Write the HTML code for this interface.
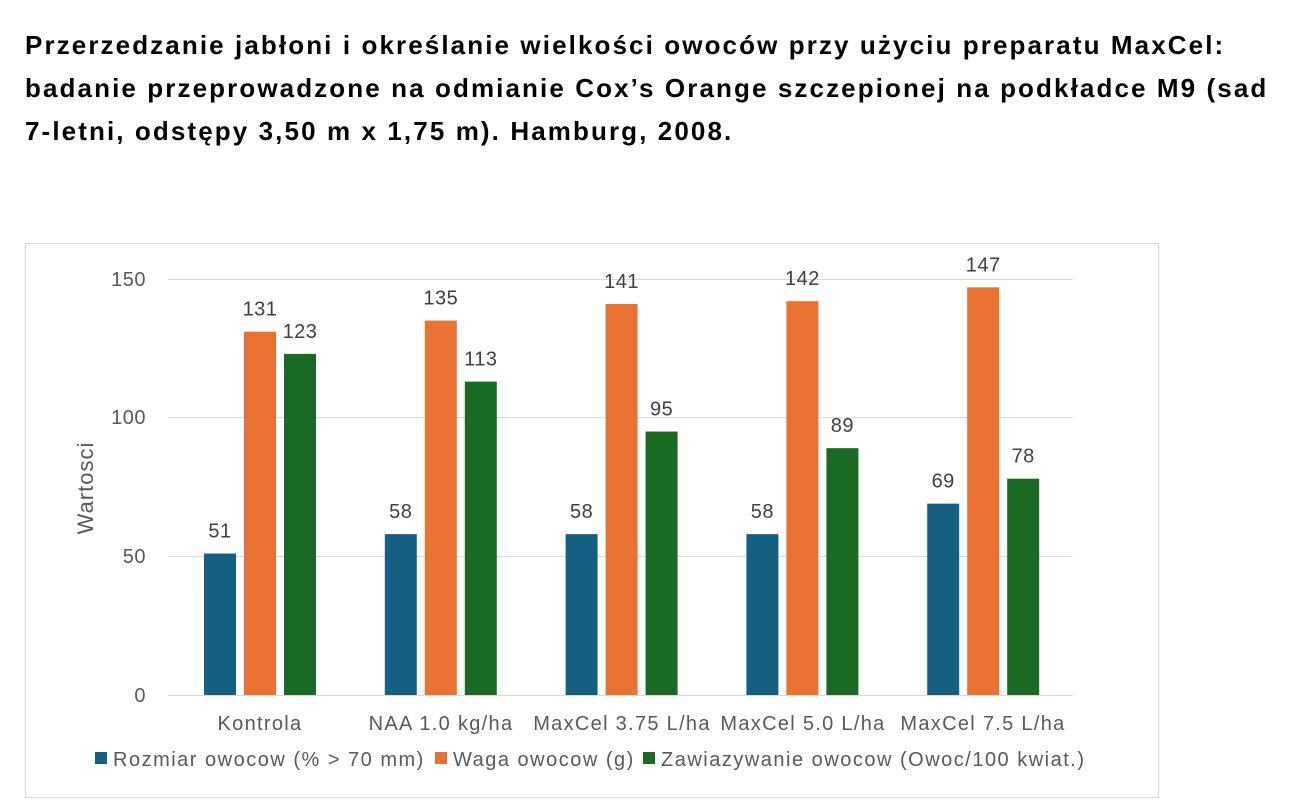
<!DOCTYPE html>
<html><head><meta charset="utf-8"><style>
body{margin:0;background:#fff;width:1303px;height:810px;overflow:hidden;font-family:"Liberation Sans",sans-serif}
.t{position:absolute;left:25px;top:24px;font-weight:bold;font-size:26px;line-height:43px;color:#000;letter-spacing:2.1px;white-space:nowrap}
</style></head><body>
<div class="t">Przerzedzanie jabłoni i określanie wielkości owoców przy użyciu preparatu MaxCel:<br>badanie przeprowadzone na odmianie Cox’s Orange szczepionej na podkładce M9 (sad<br>7-letni, odstępy 3,50 m x 1,75 m). Hamburg, 2008.</div>
<svg width="1303" height="810" style="position:absolute;left:0;top:0" font-family="Liberation Sans, sans-serif">
<rect x="25.5" y="243.5" width="1133" height="554" fill="none" stroke="#d9d9d9"/>
<g stroke="#d9d9d9" stroke-width="1">
<line x1="168" x2="1073" y1="279.5" y2="279.5"/>
<line x1="168" x2="1073" y1="417.5" y2="417.5"/>
<line x1="168" x2="1073" y1="556.5" y2="556.5"/>
<line x1="168" x2="1073" y1="695.5" y2="695.5"/>
</g>
<g font-size="20" fill="#595959" text-anchor="end" letter-spacing="0.5">
<text x="146" y="286">150</text><text x="146" y="424">100</text><text x="146" y="563">50</text><text x="146" y="702">0</text>
</g>
<text transform="translate(93,488) rotate(-90)" font-size="22" fill="#595959" text-anchor="middle" letter-spacing="1">Wartosci</text>
<g id="bars"></g>
<g font-size="20" fill="#595959" text-anchor="middle" letter-spacing="1.3">
<text x="260" y="730">Kontrola</text><text x="441" y="730">NAA 1.0 kg/ha</text><text x="622" y="730">MaxCel 3.75 L/ha</text><text x="803" y="730">MaxCel 5.0 L/ha</text><text x="983" y="730">MaxCel 7.5 L/ha</text>
</g>
<g font-size="20" fill="#595959" letter-spacing="1.5">
<rect x="95" y="752" width="12" height="12" fill="#156082"/><text x="113" y="766">Rozmiar owocow (% &gt; 70 mm)</text>
<rect x="435" y="752" width="12" height="12" fill="#E97132"/><text x="453" y="766">Waga owocow (g)</text>
<rect x="643" y="752" width="12" height="12" fill="#196B24"/><text x="661" y="766">Zawiazywanie owocow (Owoc/100 kwiat.)</text>
</g>
</svg>
<script>
var d=[[51,131,123],[58,135,113],[58,141,95],[58,142,89],[69,147,78]];
var c=["#156082","#E97132","#196B24"],s="";
var k=416/150;
d.forEach(function(g,i){var cx=260+i*180.8;g.forEach(function(v,j){var x=cx-56+j*40,h=v*k,y=695-h;
s+='<rect x="'+x+'" y="'+y+'" width="32" height="'+h+'" fill="'+c[j]+'"/>';
s+='<text x="'+(x+16)+'" y="'+(y-16)+'" font-size="20" fill="#404040" text-anchor="middle" letter-spacing="0.5">'+v+'</text>';});});
document.getElementById("bars").innerHTML=s;
</script>
</body></html>
